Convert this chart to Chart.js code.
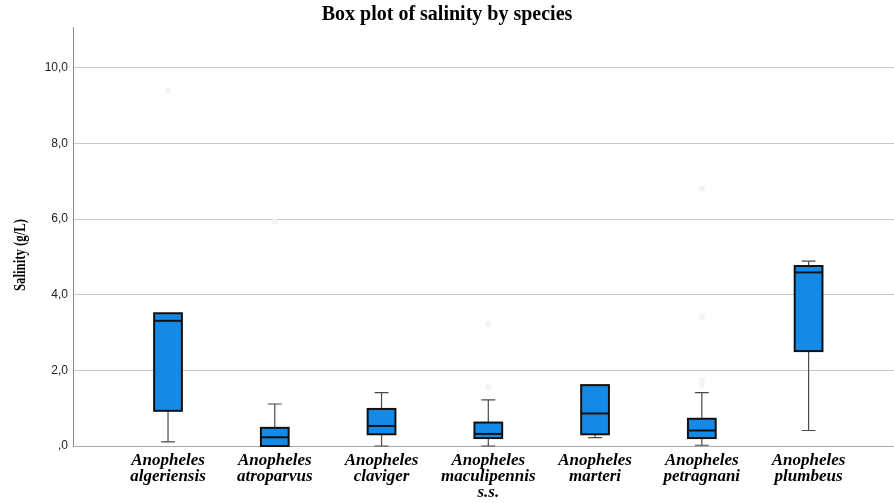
<!DOCTYPE html>
<html lang="en">
<head>
    <meta charset="UTF-8">
    <title>Box plot of salinity by species</title>
    <script src="https://cdn.jsdelivr.net/npm/chart.js"></script>
    <style>
        body { margin: 0; background: #fff; }
        canvas { display: block; }
    </style>
</head>
<body>
    <canvas id="boxChart" width="894" height="503"></canvas>

    <script>
        // species on the x axis (multi-line labels)
        const species = [
            ['Anopheles', 'algeriensis'],
            ['Anopheles', 'atroparvus'],
            ['Anopheles', 'claviger'],
            ['Anopheles', 'maculipennis', 's.s.'],
            ['Anopheles', 'marteri'],
            ['Anopheles', 'petragnani'],
            ['Anopheles', 'plumbeus']
        ];

        // box plot summaries, salinity in g/L
        const mins    = [0.11, 0.00, 0.00, 0.00, 0.22, 0.02, 0.41];
        const q1s     = [0.93, 0.00, 0.31, 0.21, 0.31, 0.21, 2.51];
        const medians = [3.31, 0.23, 0.53, 0.32, 0.86, 0.41, 4.59];
        const q3s     = [3.51, 0.48, 0.98, 0.62, 1.61, 0.72, 4.76];
        const maxs    = [3.51, 1.11, 1.41, 1.22, 1.61, 1.41, 4.89];

        // outliers (species index + value), barely visible in the original
        const outlierSpecies = [0, 1, 3, 3, 5, 5, 5, 5];
        const outlierValues  = [9.40, 5.93, 1.57, 3.22, 1.62, 1.74, 3.42, 6.81];

        const yTicks = [0, 2, 4, 6, 8, 10];
        const yTitle = 'Salinity (g/L)';

        const boxPlugin = {
            id: 'boxes',
            beforeDatasetsDraw(chart) {
                const ctx = chart.ctx;
                const x = chart.scales.x;
                const y = chart.scales.y;
                species.forEach((s, i) => {
                    const cx = x.getPixelForValue(i);
                    const half = x.getPixelForValue(i + 0.13) - cx;
                    const cap = x.getPixelForValue(i + 0.065) - cx;
                    const pMin = y.getPixelForValue(mins[i]);
                    const pMax = y.getPixelForValue(maxs[i]);
                    const pQ1 = y.getPixelForValue(q1s[i]);
                    const pQ3 = y.getPixelForValue(q3s[i]);
                    const pMed = y.getPixelForValue(medians[i]);

                    ctx.save();
                    // whiskers
                    ctx.strokeStyle = '#4a4a4a';
                    ctx.lineWidth = 1.2;
                    ctx.beginPath();
                    ctx.moveTo(cx, pMin);
                    ctx.lineTo(cx, pMax);
                    if (maxs[i] > q3s[i]) {
                        ctx.moveTo(cx - cap, pMax);
                        ctx.lineTo(cx + cap, pMax);
                    }
                    if (mins[i] < q1s[i]) {
                        ctx.moveTo(cx - cap, pMin);
                        ctx.lineTo(cx + cap, pMin);
                    }
                    ctx.stroke();

                    // box
                    ctx.fillStyle = '#148ae6';
                    ctx.strokeStyle = '#111';
                    ctx.lineWidth = 2;
                    ctx.fillRect(cx - half, pQ3, half * 2, pQ1 - pQ3);
                    ctx.strokeRect(cx - half, pQ3, half * 2, pQ1 - pQ3);

                    // median
                    ctx.beginPath();
                    ctx.moveTo(cx - half, pMed);
                    ctx.lineTo(cx + half, pMed);
                    ctx.stroke();
                    ctx.restore();
                });
            },
            afterDraw(chart) {
                // condensed bold serif axis title, as in the original
                const ctx = chart.ctx;
                ctx.save();
                ctx.translate(21, 255);
                ctx.rotate(-Math.PI / 2);
                ctx.scale(0.8, 1);
                ctx.font = 'bold 16px "Liberation Serif"';
                ctx.fillStyle = '#000';
                ctx.textAlign = 'center';
                ctx.textBaseline = 'middle';
                ctx.fillText(yTitle, 0, 0);
                ctx.restore();
            }
        };

        new Chart(document.getElementById('boxChart'), {
            type: 'scatter',
            data: {
                datasets: [{
                    label: 'Outliers',
                    data: outlierValues.map((v, k) => ({ x: outlierSpecies[k], y: v })),
                    pointRadius: 3,
                    pointBackgroundColor: '#f3f3f3',
                    pointBorderWidth: 0
                }]
            },
            options: {
                responsive: false,
                animation: false,
                layout: { padding: 0, autoPadding: false },
                plugins: {
                    legend: { display: false },
                    tooltip: { enabled: false },
                    title: {
                        display: true,
                        text: 'Box plot of salinity by species',
                        color: '#000',
                        font: { family: 'Liberation Serif', size: 20, weight: 'bold', lineHeight: 1.0 },
                        padding: { top: 5, bottom: 2 }
                    }
                },
                scales: {
                    x: {
                        type: 'linear',
                        min: -0.89,
                        max: 6.80,
                        afterBuildTicks: (scale) => {
                            scale.ticks = species.map((s, i) => ({ value: i }));
                        },
                        afterFit: (scale) => { scale.height = 57; },
                        grid: { display: true, drawOnChartArea: false, drawTicks: false },
                        border: { display: true, color: '#a8a8a8', width: 1 },
                        ticks: {
                            padding: 6,
                            maxRotation: 0,
                            autoSkip: false,
                            color: '#000',
                            font: { family: 'Liberation Serif', size: 17, weight: 'bold', style: 'italic', lineHeight: 0.96 },
                            callback: (value) => species[value]
                        }
                    },
                    y: {
                        min: 0,
                        max: 11.08,
                        afterBuildTicks: (scale) => {
                            scale.ticks = yTicks.map(v => ({ value: v }));
                        },
                        afterFit: (scale) => { scale.width = 73; },
                        grid: { color: '#c8c8c8', lineWidth: 1, drawTicks: false },
                        border: { display: true, color: '#8c8c8c', width: 1 },
                        ticks: {
                            padding: 5,
                            color: '#222',
                            font: { family: 'Liberation Sans', size: 12 },
                            callback: (value) => value === 0 ? ',0' : value.toFixed(1).replace('.', ',')
                        }
                    }
                }
            },
            plugins: [boxPlugin]
        });
    </script>
</body>
</html>
